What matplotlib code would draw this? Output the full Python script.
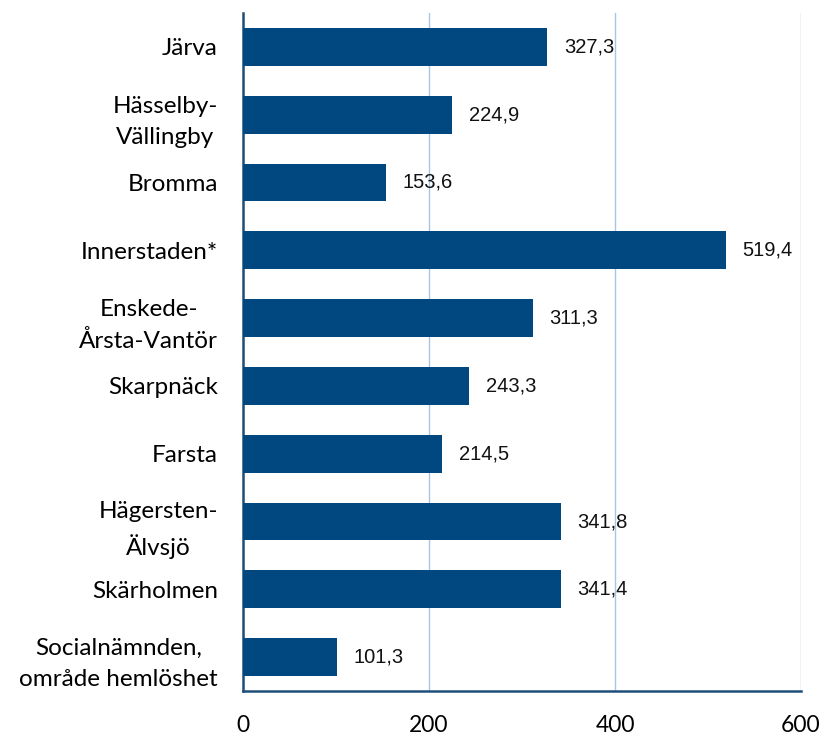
import matplotlib
matplotlib.use("Agg")
import matplotlib.pyplot as plt

categories = ["Järva", "Hässelby-\nVällingby", "Bromma", "Innerstaden*",
              "Enskede-\nÅrsta-Vantör", "Skarpnäck", "Farsta",
              "Hägersten-\nÄlvsjö", "Skärholmen",
              "Socialnämnden,\nområde hemlöshet"]
values = [327.3, 224.9, 153.6, 519.4, 311.3, 243.3, 214.5, 341.8, 341.4, 101.3]
xticks = [0, 200, 400, 600]

bar_color = "#00487f"
grid_color = "#a6c6e8"

fig = plt.figure(figsize=(8.29, 7.36), dpi=100)
ax = fig.add_axes([243/829, 1-691/736, (801-243)/829, (691-13)/736])

y = list(range(len(categories)))
ax.barh(y, values, height=0.56, color=bar_color, zorder=3)
ax.set_ylim(len(categories)-0.5, -0.5)
ax.set_xlim(0, 600)
ax.set_xticks(xticks)
ax.set_xticklabels([str(t) for t in xticks], fontsize=16.5, family="Lato")
ax.set_yticks(y)
ax.set_yticklabels(categories, fontsize=17.5, family="Lato", linespacing=1.6)
for lbl in ax.get_yticklabels():
    lbl.set_multialignment("center")
ax.tick_params(axis="both", length=0)
ax.tick_params(axis="x", pad=17)
ax.tick_params(axis="y", pad=18)
ax.grid(axis="x", color=grid_color, linewidth=1, zorder=0)
ax.grid(axis="y", visible=False)
for s in ["top", "right"]:
    ax.spines[s].set_visible(False)
for s in ["left", "bottom"]:
    ax.spines[s].set_color("#1f4e79")
    ax.spines[s].set_linewidth(1.8)

for yi, v in zip(y, values):
    ax.annotate(f"{v:.1f}".replace(".", ","), (v, yi), xytext=(12, 0),
                textcoords="offset points", va="center", ha="left",
                fontsize=14.5, family="Liberation Sans", color="#111111")

fig.savefig("out.png", dpi=100)
